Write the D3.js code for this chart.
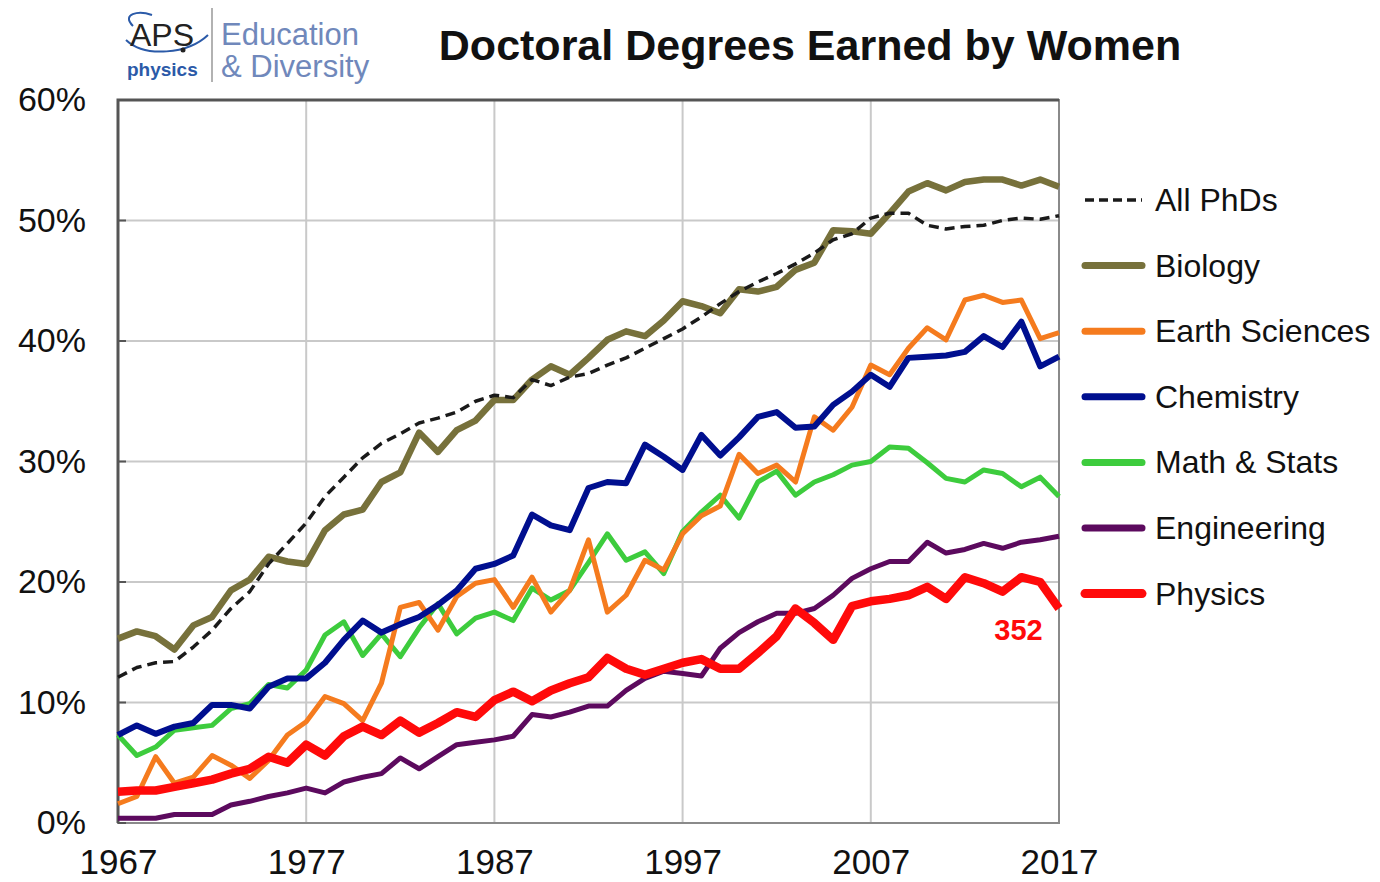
<!DOCTYPE html>
<html>
<head>
<meta charset="utf-8">
<script src="https://cdn.jsdelivr.net/npm/d3@7"></script>
<style>
  body { margin: 0; background: #fff; }
  text { font-family: "Liberation Sans", Arial, sans-serif; }
</style>
</head>
<body>
<svg></svg>
<script>
var width = 1380, height = 882;

// years 1967..2017
var years = d3.range(1967, 2018);
var yTicks = [0, 10, 20, 30, 40, 50, 60];
var xTicks = [1967, 1977, 1987, 1997, 2007, 2017];

var allPhDs = [12.1, 12.9, 13.3, 13.4, 14.6, 16.0, 17.8, 19.2, 21.5, 23.2, 24.9, 27.1, 28.7, 30.3, 31.5, 32.3, 33.2, 33.6, 34.1, 35.0, 35.5, 35.3, 36.8, 36.3, 37.0, 37.3, 38.0, 38.6, 39.4, 40.2, 41.0, 42.0, 43.1, 44.1, 44.9, 45.6, 46.4, 47.3, 48.4, 48.9, 50.2, 50.6, 50.6, 49.6, 49.3, 49.5, 49.6, 50.0, 50.2, 50.1, 50.4];
var biology = [15.3, 15.9, 15.5, 14.4, 16.4, 17.1, 19.3, 20.2, 22.1, 21.7, 21.5, 24.3, 25.6, 26.0, 28.3, 29.1, 32.4, 30.8, 32.6, 33.4, 35.1, 35.1, 36.8, 37.9, 37.2, 38.6, 40.1, 40.8, 40.4, 41.7, 43.3, 42.9, 42.3, 44.3, 44.1, 44.5, 45.9, 46.5, 49.2, 49.1, 48.9, 50.6, 52.4, 53.1, 52.5, 53.2, 53.4, 53.4, 52.9, 53.4, 52.8];
var earth = [1.6, 2.2, 5.5, 3.3, 3.8, 5.6, 4.8, 3.7, 5.2, 7.3, 8.4, 10.5, 9.9, 8.5, 11.6, 17.9, 18.3, 16.0, 18.8, 19.9, 20.2, 17.9, 20.4, 17.5, 19.3, 23.5, 17.5, 18.9, 21.8, 21.0, 24.0, 25.5, 26.3, 30.6, 29.0, 29.7, 28.3, 33.7, 32.6, 34.5, 38.0, 37.2, 39.4, 41.1, 40.1, 43.4, 43.8, 43.2, 43.4, 40.2, 40.7];
var chemistry = [7.3, 8.1, 7.4, 8.0, 8.3, 9.8, 9.8, 9.5, 11.3, 12.0, 12.0, 13.3, 15.2, 16.8, 15.8, 16.5, 17.1, 18.1, 19.3, 21.1, 21.5, 22.2, 25.6, 24.7, 24.3, 27.8, 28.3, 28.2, 31.4, 30.4, 29.3, 32.2, 30.5, 32.0, 33.7, 34.1, 32.8, 32.9, 34.7, 35.8, 37.2, 36.2, 38.6, 38.7, 38.8, 39.1, 40.4, 39.5, 41.6, 37.9, 38.7];
var mathStats = [7.3, 5.6, 6.3, 7.7, 7.9, 8.1, 9.5, 9.9, 11.5, 11.2, 12.7, 15.6, 16.7, 13.9, 15.7, 13.8, 16.2, 18.2, 15.7, 17.0, 17.5, 16.8, 19.5, 18.5, 19.3, 21.6, 24.0, 21.8, 22.5, 20.7, 24.2, 25.8, 27.2, 25.3, 28.3, 29.2, 27.2, 28.3, 28.9, 29.7, 30.0, 31.2, 31.1, 29.9, 28.6, 28.3, 29.3, 29.0, 27.9, 28.7, 27.1];
var engineering = [0.4, 0.4, 0.4, 0.7, 0.7, 0.7, 1.5, 1.8, 2.2, 2.5, 2.9, 2.5, 3.4, 3.8, 4.1, 5.4, 4.5, 5.5, 6.5, 6.7, 6.9, 7.2, 9.0, 8.8, 9.2, 9.7, 9.7, 11.0, 12.0, 12.6, 12.4, 12.2, 14.5, 15.8, 16.7, 17.4, 17.4, 17.8, 18.9, 20.3, 21.1, 21.7, 21.7, 23.3, 22.4, 22.7, 23.2, 22.8, 23.3, 23.5, 23.8];
var physics = [2.6, 2.7, 2.7, 3.0, 3.3, 3.6, 4.1, 4.5, 5.5, 5.0, 6.5, 5.6, 7.2, 8.0, 7.3, 8.5, 7.5, 8.3, 9.2, 8.8, 10.2, 10.9, 10.1, 11.0, 11.6, 12.1, 13.7, 12.8, 12.3, 12.8, 13.3, 13.6, 12.8, 12.8, 14.1, 15.5, 17.8, 16.6, 15.2, 18.0, 18.4, 18.6, 18.9, 19.6, 18.6, 20.4, 19.9, 19.2, 20.4, 20.0, 17.8];

var seriesNames = ["All PhDs", "Biology", "Earth Sciences", "Chemistry", "Math & Stats", "Engineering", "Physics"];
var seriesValues = [allPhDs, biology, earth, chemistry, mathStats, engineering, physics];
var seriesColors = ["#1a1a1a", "#77713b", "#f57b1e", "#000f8f", "#3dcc3d", "#5c0a5e", "#ff0a0a"];
var seriesWidths = [3.5, 6.5, 5, 6, 5, 5, 8.5];
var physicsCount = "352";

var svg = d3.select("svg").attr("width", width).attr("height", height);

var plotLeft = 118, plotRight = 1059, plotTop = 100, plotBottom = 823;

var x = d3.scaleLinear().domain([1967, 2017]).range([plotLeft, plotRight]);
var y = d3.scaleLinear().domain([0, 60]).range([plotBottom, plotTop]);

// grid
svg.append("g").selectAll("line")
  .data(yTicks.slice(1, -1))
  .enter().append("line")
  .attr("x1", plotLeft).attr("x2", plotRight)
  .attr("y1", function (d) { return y(d); }).attr("y2", function (d) { return y(d); })
  .attr("stroke", "#c9c9c9").attr("stroke-width", 2);

svg.append("g").selectAll("line")
  .data(xTicks.slice(1, -1))
  .enter().append("line")
  .attr("y1", plotTop).attr("y2", plotBottom)
  .attr("x1", function (d) { return x(d); }).attr("x2", function (d) { return x(d); })
  .attr("stroke", "#c9c9c9").attr("stroke-width", 2);

// frame
svg.append("rect")
  .attr("x", plotLeft).attr("y", plotTop)
  .attr("width", plotRight - plotLeft).attr("height", plotBottom - plotTop)
  .attr("fill", "none").attr("stroke", "#8a8a8a").attr("stroke-width", 2);
svg.append("path")
  .attr("d", "M" + plotLeft + "," + plotBottom + "V" + plotTop + "H" + plotRight)
  .attr("fill", "none").attr("stroke", "#555").attr("stroke-width", 3);

// axes
var yAxis = d3.axisLeft(y).tickValues(yTicks).tickSize(0).tickPadding(32)
  .tickFormat(function (d) { return d + "%"; });
var yg = svg.append("g").attr("transform", "translate(" + plotLeft + ",0)").call(yAxis);
yg.select(".domain").remove();
yg.selectAll("text").attr("font-size", 34).attr("fill", "#111")
  .attr("font-family", "Liberation Sans, Arial, sans-serif");

var xAxis = d3.axisBottom(x).tickValues(xTicks).tickSize(0).tickPadding(26)
  .tickFormat(d3.format("d"));
var xg = svg.append("g").attr("transform", "translate(0," + plotBottom + ")").call(xAxis);
xg.select(".domain").remove();
xg.selectAll("text").attr("font-size", 35).attr("fill", "#111")
  .attr("font-family", "Liberation Sans, Arial, sans-serif");

// small tick marks on the left axis
svg.append("g").selectAll("line")
  .data(yTicks)
  .enter().append("line")
  .attr("x1", plotLeft).attr("x2", plotLeft + 8)
  .attr("y1", function (d) { return y(d); }).attr("y2", function (d) { return y(d); })
  .attr("stroke", "#555").attr("stroke-width", 2);

var line = d3.line()
  .x(function (d, i) { return x(years[i]); })
  .y(function (d) { return y(d); });

// draw order: back to front
var order = [5, 4, 2, 3, 1, 6, 0];
order.forEach(function (k) {
  svg.append("path")
    .datum(seriesValues[k])
    .attr("d", line)
    .attr("fill", "none")
    .attr("stroke", seriesColors[k])
    .attr("stroke-width", seriesWidths[k])
    .attr("stroke-linejoin", "round")
    .attr("stroke-dasharray", k == 0 ? "10,6" : null);
});

svg.append("text")
  .attr("x", x(2014) + 16).attr("y", y(physics[50]) + 31)
  .attr("text-anchor", "middle")
  .attr("font-size", 29).attr("font-weight", "bold")
  .attr("fill", seriesColors[6])
  .text(physicsCount);

// legend
var legend = svg.append("g").attr("transform", "translate(1085,200)");
seriesNames.forEach(function (name, i) {
  var g = legend.append("g").attr("transform", "translate(0," + (i * 65.6) + ")");
  g.append("line")
    .attr("x1", 0).attr("x2", 57)
    .attr("stroke", seriesColors[i])
    .attr("stroke-width", i == 0 ? 3.5 : (i == 6 ? 9 : 7))
    .attr("stroke-linecap", i == 0 ? "butt" : "round")
    .attr("stroke-dasharray", i == 0 ? "9,5" : null);
  g.append("text")
    .attr("x", 70).attr("y", 11)
    .attr("font-size", 32).attr("fill", "#111")
    .text(name);
});

// title
svg.append("text")
  .attr("x", 810).attr("y", 60)
  .attr("text-anchor", "middle")
  .attr("font-size", 43).attr("font-weight", "bold")
  .attr("fill", "#111")
  .text("Doctoral Degrees Earned by Women");

// logo
var logo = svg.append("g");
logo.append("path")
  .attr("d", "M133,26 C121,14 138,10 152,15 M126,40 C145,58 188,54 208,35")
  .attr("fill", "none").attr("stroke", "#2b5aa8").attr("stroke-width", 2);
logo.append("text")
  .attr("x", 130).attr("y", 46)
  .attr("font-family", "Liberation Serif, Times New Roman, serif")
  .attr("font-size", 32).attr("fill", "#222")
  .text("APS");
logo.append("circle").attr("cx", 183).attr("cy", 50).attr("r", 2.5).attr("fill", "#222");
logo.append("text")
  .attr("x", 127).attr("y", 76)
  .attr("font-size", 19).attr("font-weight", "bold").attr("fill", "#2b5aa8")
  .text("physics");
logo.append("line")
  .attr("x1", 212).attr("x2", 212).attr("y1", 8).attr("y2", 82)
  .attr("stroke", "#999").attr("stroke-width", 1.5);
logo.append("text")
  .attr("x", 221).attr("y", 45)
  .attr("font-size", 31).attr("fill", "#7088bb")
  .text("Education");
logo.append("text")
  .attr("x", 221).attr("y", 77)
  .attr("font-size", 31).attr("fill", "#7088bb")
  .text("& Diversity");
</script>
</body>
</html>
